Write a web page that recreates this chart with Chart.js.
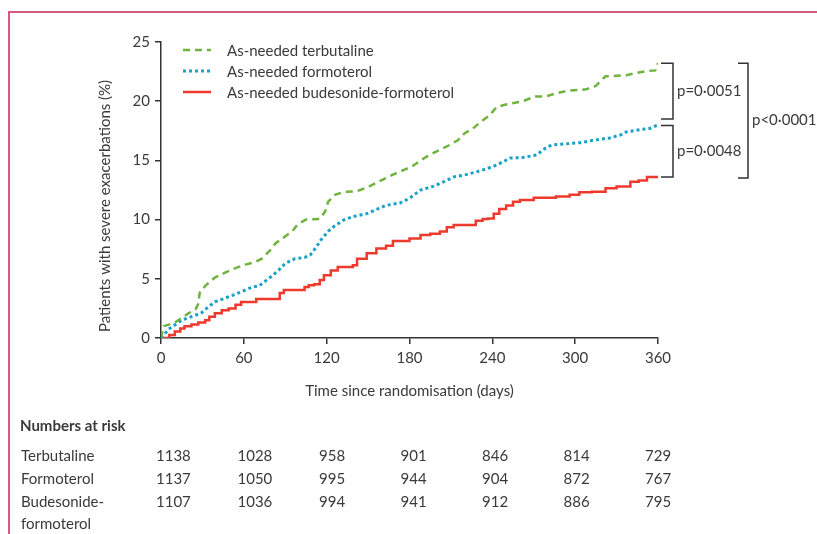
<!DOCTYPE html>
<html>
<head>
<meta charset="utf-8">
<script src="https://cdn.jsdelivr.net/npm/chart.js@4"></script>
<style>
  html, body { margin: 0; padding: 0; background: #fff; }
  #wrap { position: relative; width: 817px; height: 534px; overflow: hidden; font-family: Lato, sans-serif; color: #3a3a3a; }
  #frame { position: absolute; left: 8px; top: 11px; right: -4px; bottom: -4px; border-left: 2px solid #d65a80; border-top: 2px solid #d65a80; }
  canvas { position: absolute; left: 0; top: 0; }
  .t { position: absolute; font-size: 15px; line-height: 20px; white-space: nowrap; }
  .hd { font-weight: bold; }
</style>
</head>
<body>
<div id="wrap">
  <div id="frame"></div>
  <canvas id="km" width="817" height="534"></canvas>
  <div id="risk"></div>
</div>
<script>
// Kaplan-Meier style curves – cumulative % with severe exacerbations

const xTicks = [0, 60, 120, 180, 240, 300, 360];
const yTicks = [0, 5, 10, 15, 20, 25];

const seriesNames = ["As-needed terbutaline", "As-needed formoterol", "As-needed budesonide-formoterol"];

// terbutaline (green dashed)
const terbDays = [0, 2, 10, 20, 25, 27, 28, 32, 39, 46, 54, 61, 68, 73, 79, 83, 89, 95, 99, 105, 115, 119, 121, 126, 133, 142, 149, 156, 161, 170, 176, 182, 188, 195, 202, 209, 215, 220, 226, 232, 238, 243, 249, 262, 271, 279, 287, 296, 308, 315, 322, 330, 337, 345, 352, 358, 360];
const terbPct  = [0, 1.0, 1.3, 2.1, 2.4, 2.9, 3.8, 4.4, 5.1, 5.5, 5.9, 6.2, 6.4, 6.7, 7.4, 8.0, 8.5, 9.0, 9.6, 10.0, 10.05, 10.7, 11.5, 12.1, 12.35, 12.4, 12.7, 13.1, 13.4, 13.9, 14.2, 14.5, 15.0, 15.5, 15.9, 16.3, 16.7, 17.3, 17.7, 18.3, 18.8, 19.5, 19.7, 20.0, 20.4, 20.4, 20.7, 20.9, 21.0, 21.3, 22.1, 22.15, 22.2, 22.4, 22.55, 22.6, 23.2];

// formoterol (blue dotted)
const formDays = [0, 2, 5, 10, 15, 22, 29, 34, 39, 46, 54, 61, 66, 71, 75, 81, 85, 90, 97, 104, 108, 112, 116, 121, 125, 132, 139, 149, 157, 163, 173, 180, 188, 197, 205, 212, 221, 229, 236, 243, 253, 262, 272, 278, 283, 294, 304, 313, 325, 333, 337, 347, 354, 360];
const formPct  = [0, 0.2, 0.7, 1.1, 1.5, 1.8, 2.1, 2.6, 3.05, 3.35, 3.7, 4.05, 4.3, 4.4, 4.75, 5.3, 5.7, 6.3, 6.7, 6.8, 7.0, 7.6, 8.3, 9.0, 9.4, 9.95, 10.25, 10.5, 10.9, 11.2, 11.4, 11.8, 12.5, 12.8, 13.2, 13.6, 13.8, 14.05, 14.3, 14.6, 15.2, 15.25, 15.45, 16.0, 16.3, 16.4, 16.5, 16.7, 16.9, 17.15, 17.4, 17.6, 17.7, 18.0];

// budesonide-formoterol (red solid, stepped)
const budDays = [0, 6, 10, 14, 17, 22, 27, 32, 35, 39, 44, 49, 54, 58, 69, 86, 89, 104, 107, 111, 115, 118, 123, 128, 139, 142, 149, 156, 163, 168, 180, 188, 195, 202, 207, 212, 228, 233, 237, 241, 245, 250, 255, 260, 270, 286, 296, 303, 312, 322, 330, 340, 346, 352, 360];
const budPct  = [0, 0.25, 0.55, 0.8, 1.0, 1.15, 1.3, 1.5, 1.8, 2.1, 2.35, 2.5, 2.8, 3.05, 3.3, 3.8, 4.05, 4.3, 4.45, 4.55, 4.9, 5.3, 5.7, 6.0, 6.15, 6.7, 7.15, 7.55, 7.8, 8.2, 8.4, 8.7, 8.8, 9.0, 9.35, 9.55, 9.9, 10.05, 10.1, 10.5, 10.9, 11.2, 11.5, 11.65, 11.85, 11.95, 12.1, 12.3, 12.35, 12.65, 12.8, 13.2, 13.3, 13.6, 13.6];

const pLabels = ["p=0·0051", "p=0·0048", "p<0·0001"];

// numbers at risk
const riskGroups = ["Terbutaline", "Formoterol", "Budesonide-\nformoterol"];
const riskTerb = [1138, 1028, 958, 901, 846, 814, 729];
const riskForm = [1137, 1050, 995, 944, 904, 872, 767];
const riskBud  = [1107, 1036, 994, 941, 912, 886, 795];

const GREEN = "#6fb43f", BLUE = "#19a1c9", RED = "#ee3a2c", INK = "#3a3a3a", AX = "#333";
const FONT = "Lato, sans-serif";

const toXY = (xs, ys) => xs.map((x, i) => ({ x, y: ys[i] }));

// legend, brackets and axis titles drawn on top
const extras = {
  id: "extras",
  afterDraw(chart) {
    const ctx = chart.ctx;
    const sx = chart.scales.x, sy = chart.scales.y;
    ctx.save();
    ctx.fillStyle = INK;
    ctx.font = "15px " + FONT;
    ctx.textBaseline = "middle";

    // legend
    const styles = [
      { c: GREEN, d: [7, 5], w: 2.5 },
      { c: BLUE, d: [3, 3], w: 3 },
      { c: RED, d: [], w: 2.5 }
    ];
    [50, 71, 92].forEach((y, i) => {
      ctx.strokeStyle = styles[i].c;
      ctx.lineWidth = styles[i].w;
      ctx.setLineDash(styles[i].d);
      ctx.beginPath(); ctx.moveTo(183, y); ctx.lineTo(211, y); ctx.stroke();
      ctx.setLineDash([]);
      ctx.fillText(seriesNames[i], 227, y + 1);
    });

    // axis titles
    ctx.textAlign = "center";
    ctx.fillText("Time since randomisation (days)", (sx.left + sx.right) / 2, 391);
    ctx.save();
    ctx.translate(105, 206);
    ctx.rotate(-Math.PI / 2);
    ctx.fillText("Patients with severe exacerbations (%)", 0, 0);
    ctx.restore();

    // p-value brackets
    const yT = sy.getPixelForValue(terbPct.at(-1));
    const yF = sy.getPixelForValue(formPct.at(-1));
    const yB = sy.getPixelForValue(budPct.at(-1));
    ctx.strokeStyle = AX;
    ctx.lineWidth = 1.5;
    const bracket = (x0, x1, ya, yb) => {
      ctx.beginPath();
      ctx.moveTo(x0, ya); ctx.lineTo(x1, ya); ctx.lineTo(x1, yb); ctx.lineTo(x0, yb);
      ctx.stroke();
    };
    bracket(661, 673, yT, yF - 6);
    bracket(661, 673, yF + 0.5, yB);
    bracket(738, 748, yT, yB + 1);
    ctx.textAlign = "left";
    ctx.fillText(pLabels[0], 677, (yT + yF - 6) / 2);
    ctx.fillText(pLabels[1], 677, (yF + yB) / 2);
    ctx.fillText(pLabels[2], 752, (yT + yB) / 2);
    ctx.restore();
  }
};

new Chart(document.getElementById("km"), {
  type: "line",
  data: {
    datasets: [
      {
        label: seriesNames[0], data: toXY(terbDays, terbPct),
        borderColor: GREEN, borderWidth: 2.5, borderDash: [7, 5],
        pointRadius: 0, tension: 0, fill: false
      },
      {
        label: seriesNames[1], data: toXY(formDays, formPct),
        borderColor: BLUE, borderWidth: 3, borderDash: [3, 3],
        pointRadius: 0, tension: 0, fill: false
      },
      {
        label: seriesNames[2], data: toXY(budDays, budPct),
        borderColor: RED, borderWidth: 2.5, stepped: true,
        pointRadius: 0, fill: false
      }
    ]
  },
  options: {
    responsive: false,
    animation: false,
    devicePixelRatio: 1,
    layout: { padding: { left: 0, top: 42, right: 159, bottom: 136 } },
    plugins: { legend: { display: false }, tooltip: { enabled: false } },
    scales: {
      x: {
        type: "linear", min: 0, max: 360,
        afterBuildTicks: s => { s.ticks = xTicks.map(v => ({ value: v })); },
        afterFit: s => { s.height = 60; },
        grid: { drawOnChartArea: false, tickLength: 6, color: AX, lineWidth: 1.5 },
        border: { display: true, color: AX, width: 1.5 },
        ticks: { color: INK, padding: 5, font: { size: 15, family: FONT } }
      },
      y: {
        min: 0, max: 25,
        afterBuildTicks: s => { s.ticks = yTicks.map(v => ({ value: v })); },
        afterFit: s => { s.width = 161; },
        grid: { drawOnChartArea: false, tickLength: 6, color: AX, lineWidth: 1.5 },
        border: { display: true, color: AX, width: 1.5 },
        ticks: { color: INK, padding: 5, font: { size: 15, family: FONT } }
      }
    }
  },
  plugins: [extras]
});

// numbers-at-risk table as html text
const risk = document.getElementById("risk");
const addText = (txt, left, top, cls) => {
  const d = document.createElement("div");
  d.className = "t" + (cls ? " " + cls : "");
  d.style.left = left + "px";
  d.style.top = top + "px";
  d.textContent = txt;
  risk.appendChild(d);
};
addText("Numbers at risk", 20, 415, "hd");
const rowTops = [445, 468, 491];
[riskTerb, riskForm, riskBud].forEach((row, r) => {
  const name = riskGroups[r].split("\n");
  name.forEach((n, k) => addText(n, 21, rowTops[r] + k * 22));
  row.forEach((v, i) => addText(String(v), 156 + i * 81.5, rowTops[r]));
});
</script>
</body>
</html>
